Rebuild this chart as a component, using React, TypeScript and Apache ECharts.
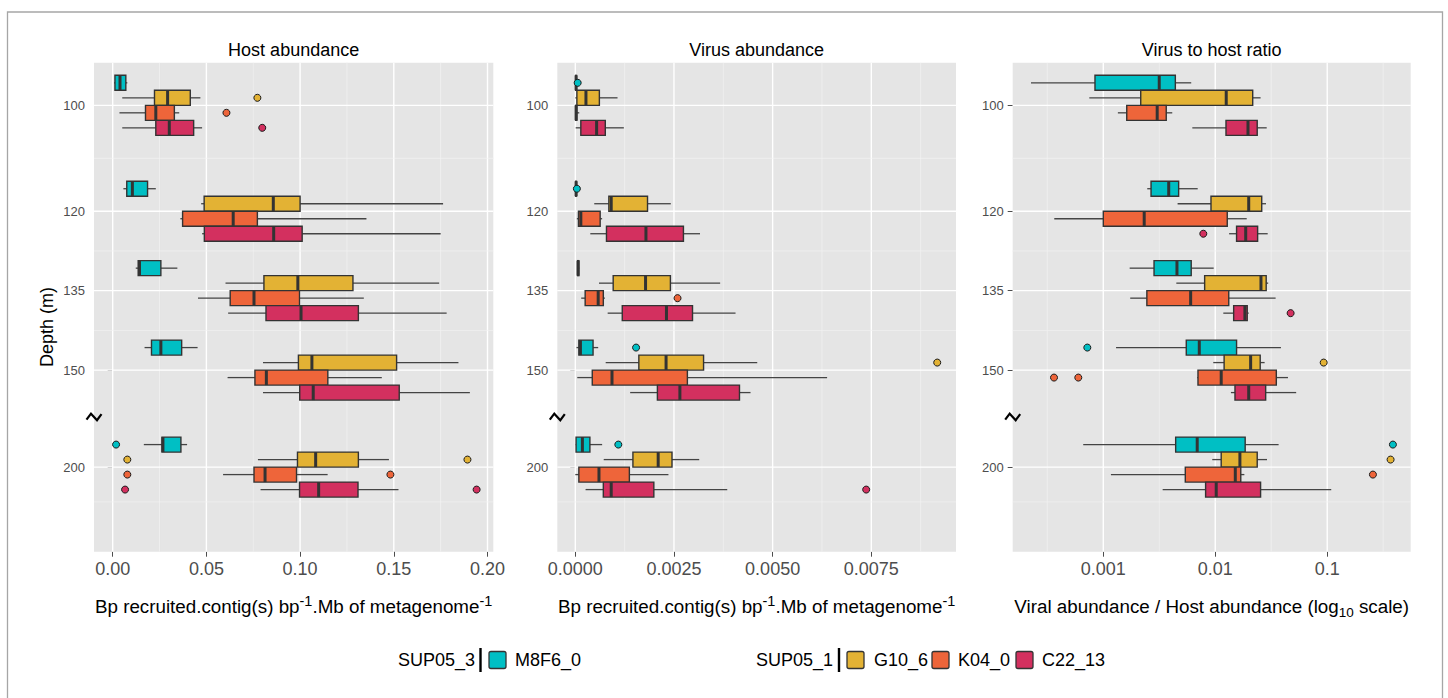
import React, { useEffect, useRef } from 'react';
import * as echarts from 'echarts';

// ---------------- data ----------------
const depths = [100, 120, 135, 150, 200];
const depthTickLabels = ['100', '120', '135', '150', '200'];
const groups = ['M8F6_0', 'G10_6', 'K04_0', 'C22_13'];
const clusters = ['SUP05_3', 'SUP05_1'];

// box stats per depth: [lower whisker, Q1, median, Q3, upper whisker]
const hostM8F6 = [
  [0.0007, 0.0012, 0.0039, 0.007, 0.0078],
  [0.0057, 0.0075, 0.0105, 0.0186, 0.023],
  [0.0123, 0.0136, 0.0143, 0.0257, 0.0345],
  [0.017, 0.0207, 0.0257, 0.0368, 0.0453],
  [0.0166, 0.0263, 0.0268, 0.0364, 0.0397],
];
const hostG10 = [
  [0.0051, 0.0223, 0.0293, 0.0414, 0.0468],
  [0.0472, 0.0488, 0.0857, 0.1, 0.1763],
  [0.0602, 0.0807, 0.0988, 0.1282, 0.1742],
  [0.0802, 0.0991, 0.1063, 0.1515, 0.1845],
  [0.0775, 0.0986, 0.1083, 0.1311, 0.1474],
];
const hostK04 = [
  [0.0036, 0.0175, 0.023, 0.0329, 0.0355],
  [0.0361, 0.0373, 0.0643, 0.0772, 0.1354],
  [0.0455, 0.0627, 0.0754, 0.0997, 0.134],
  [0.0613, 0.0759, 0.082, 0.1148, 0.1436],
  [0.0589, 0.0754, 0.0813, 0.0981, 0.1147],
];
const hostC22 = [
  [0.0051, 0.023, 0.0302, 0.0432, 0.0477],
  [0.0477, 0.0489, 0.0859, 0.1011, 0.175],
  [0.0616, 0.0818, 0.1005, 0.1311, 0.1782],
  [0.0802, 0.0998, 0.107, 0.1529, 0.1906],
  [0.0789, 0.0997, 0.1099, 0.1309, 0.1525],
];
// outliers: [depth, value]
const hostOutM8F6 = [[200, 0.0018]];
const hostOutG10 = [[100, 0.0772], [200, 0.0078], [200, 0.1893]];
const hostOutK04 = [[100, 0.0607], [200, 0.0078], [200, 0.1482]];
const hostOutC22 = [[100, 0.0798], [200, 0.0066], [200, 0.1942]];

const virusM8F6 = [
  [0.0, 0.00001, 0.00002, 0.00003, 0.00004],
  [0.0, 0.00001, 0.00002, 0.00003, 0.00004],
  [0.00005, 0.00006, 0.00007, 0.00009, 0.0001],
  [0.00003, 0.00009, 0.00013, 0.00045, 0.00058],
  [0.00001, 0.00002, 0.00018, 0.00037, 0.00068],
];
const virusG10 = [
  [0.0, 0.00004, 0.00027, 0.00061, 0.00107],
  [0.00048, 0.00085, 0.00091, 0.00183, 0.00242],
  [0.0006, 0.00096, 0.00178, 0.00241, 0.00367],
  [0.00077, 0.00161, 0.0023, 0.00325, 0.00461],
  [0.00072, 0.00146, 0.0021, 0.00245, 0.00314],
];
const virusK04 = [
  [0.0, 0.00001, 0.00002, 0.00004, 0.0001],
  [0.00004, 0.00008, 0.00014, 0.00063, 0.00068],
  [0.00015, 0.00025, 0.00058, 0.00071, 0.00075],
  [0.00005, 0.00043, 0.00093, 0.00284, 0.00638],
  [0.0, 0.00009, 0.0006, 0.00137, 0.00236],
];
const virusC22 = [
  [0.00001, 0.00014, 0.00054, 0.00076, 0.00123],
  [0.00038, 0.00079, 0.00179, 0.00274, 0.00316],
  [0.00082, 0.00119, 0.00231, 0.00297, 0.00406],
  [0.00139, 0.00208, 0.00265, 0.00416, 0.00444],
  [0.00026, 0.00071, 0.00091, 0.00199, 0.00385],
];
const virusOutM8F6 = [[100, 0.00006], [120, 0.00004], [150, 0.00154], [200, 0.00109]];
const virusOutG10 = [[150, 0.00917]];
const virusOutK04 = [[135, 0.00259]];
const virusOutC22 = [[200, 0.00737]];

const ratioM8F6 = [
  [0.000226, 0.000843, 0.00316, 0.0044, 0.0061],
  [0.00247, 0.00267, 0.00384, 0.00471, 0.00697],
  [0.00172, 0.00284, 0.00455, 0.0061, 0.00968],
  [0.0013, 0.00551, 0.0072, 0.0155, 0.0386],
  [0.000662, 0.00443, 0.0069, 0.0185, 0.0368],
];
const ratioG10 = [
  [0.00075, 0.00216, 0.01253, 0.0216, 0.0254],
  [0.00461, 0.00916, 0.0199, 0.026, 0.0284],
  [0.00449, 0.00804, 0.0256, 0.0285, 0.0297],
  [0.0096, 0.012, 0.0207, 0.0252, 0.0276],
  [0.0094, 0.0113, 0.0166, 0.0237, 0.029],
];
const ratioK04 = [
  [0.00135, 0.00162, 0.00303, 0.00365, 0.00413],
  [0.000365, 0.001, 0.00232, 0.0128, 0.0191],
  [0.00174, 0.00245, 0.00603, 0.0132, 0.0346],
  [0.0069, 0.00701, 0.0113, 0.0351, 0.0446],
  [0.00117, 0.0054, 0.0151, 0.0169, 0.0182],
];
const ratioC22 = [
  [0.00624, 0.01247, 0.0196, 0.0237, 0.0288],
  [0.0133, 0.0155, 0.0187, 0.0239, 0.0294],
  [0.0118, 0.0146, 0.0184, 0.0193, 0.0199],
  [0.0138, 0.015, 0.0199, 0.0282, 0.0528],
  [0.00339, 0.0082, 0.0102, 0.0254, 0.1086],
];
const ratioOutM8F6 = [[150, 0.00072], [200, 0.386]];
const ratioOutG10 = [[150, 0.093], [200, 0.368]];
const ratioOutK04 = [[150, 0.000363], [150, 0.000598], [200, 0.256]];
const ratioOutC22 = [[120, 0.00782], [135, 0.0471]];

// axis ticks
const hostTicks = [0, 0.05, 0.1, 0.15, 0.2];
const hostTickLabels = ['0.00', '0.05', '0.10', '0.15', '0.20'];
const hostMinor = [0.025, 0.075, 0.125, 0.175];
const virusTicks = [0, 0.0025, 0.005, 0.0075];
const virusTickLabels = ['0.0000', '0.0025', '0.0050', '0.0075'];
const virusMinor = [0.00125, 0.00375, 0.00625, 0.00875];
const ratioTicks = [0.001, 0.01, 0.1];
const ratioTickLabels = ['0.001', '0.01', '0.1'];
const ratioMinor = [0.000316, 0.00316, 0.0316, 0.316];

// ---------------- layout / style ----------------
const FONT = "'Liberation Sans', Arial, Helvetica, sans-serif";
const COLORS = ['#00BFC4', '#E3B234', '#EE653A', '#D3305F'];
// depth axis with a break between 150 and 200 m
const axisPos = (d: number) => (d <= 150 ? d : 168.32 + (d - 200));
const Y_RANGE = [91.95, 184.3];
const BREAK_POS = 158.8;
const Y_MINOR = [110, 127.5, 142.5, 174.9];
const BOX_STEP = 2.833;
const GRID_TOP = 62.7;
const GRID_H = 489;

const panels = [
  {
    title: 'Host abundance', left: 94, width: 399.3, range: [-0.00998, 0.2031], log: false,
    boxes: [hostM8F6, hostG10, hostK04, hostC22],
    outs: [hostOutM8F6, hostOutG10, hostOutK04, hostOutC22],
    ticks: hostTicks, tickLabels: hostTickLabels, minor: hostMinor,
    name: '{t|Bp recruited.contig(s) bp}{sup|-1}{t|.Mb of metagenome}{sup|-1}',
  },
  {
    title: 'Virus abundance', left: 557.3, width: 398.7, range: [-0.000456, 0.009646], log: false,
    boxes: [virusM8F6, virusG10, virusK04, virusC22],
    outs: [virusOutM8F6, virusOutG10, virusOutK04, virusOutC22],
    ticks: virusTicks, tickLabels: virusTickLabels, minor: virusMinor,
    name: '{t|Bp recruited.contig(s) bp}{sup|-1}{t|.Mb of metagenome}{sup|-1}',
  },
  {
    title: 'Virus to host ratio', left: 1012.7, width: 398, range: [-3.809, -0.2545], log: true,
    boxes: [ratioM8F6, ratioG10, ratioK04, ratioC22],
    outs: [ratioOutM8F6, ratioOutG10, ratioOutK04, ratioOutC22],
    ticks: ratioTicks, tickLabels: ratioTickLabels, minor: ratioMinor,
    name: '{t|Viral abundance / Host abundance (log}{sub|10}{t| scale)}',
  },
];

function buildOption() {
  const grid: any[] = [];
  const xAxis: any[] = [];
  const yAxis: any[] = [];
  const series: any[] = [];
  const graphic: any[] = [];
  const depthPositions = depths.map(axisPos);

  panels.forEach((p, pi) => {
    const tx = (v: number) => (p.log ? Math.log10(v) : v);
    const tickVals = p.ticks.map(tx);
    grid.push({
      left: p.left, top: GRID_TOP, width: p.width, height: GRID_H,
      show: true, backgroundColor: '#E5E5E5', borderWidth: 0,
    });
    xAxis.push({
      gridIndex: pi, type: 'value', min: p.range[0], max: p.range[1],
      axisLine: { show: false },
      splitLine: { show: false },
      axisTick: { show: true, length: 5, lineStyle: { color: '#4D4D4D', width: 1 }, customValues: tickVals },
      axisLabel: {
        show: true, customValues: tickVals, fontSize: 18, color: '#4D4D4D', fontFamily: FONT, margin: 8,
        formatter: (v: number) => {
          const i = tickVals.findIndex((t) => Math.abs(t - v) < 1e-9 + Math.abs(t) * 1e-6);
          return i >= 0 ? p.tickLabels[i] : '';
        },
      },
      name: p.name, nameLocation: 'middle', nameGap: 42,
      nameTextStyle: {
        color: '#000', fontFamily: FONT, fontSize: 18.8,
        rich: {
          t: { fontSize: 18.8, lineHeight: 26, fontFamily: FONT, color: '#000' },
          sup: { fontSize: 14.5, lineHeight: 14, verticalAlign: 'top', fontFamily: FONT, color: '#000' },
          sub: { fontSize: 13.5, lineHeight: 14, verticalAlign: 'bottom', fontFamily: FONT, color: '#000' },
        },
      },
    });
    yAxis.push({
      gridIndex: pi, type: 'value', inverse: true, min: Y_RANGE[0], max: Y_RANGE[1],
      axisLine: { show: false },
      splitLine: { show: false },
      axisTick: { show: true, length: 5, lineStyle: { color: '#4D4D4D', width: 1 }, customValues: depthPositions },
      axisLabel: {
        show: true, customValues: depthPositions, fontSize: 13, color: '#4D4D4D', fontFamily: FONT, margin: 9,
        formatter: (v: number) => {
          const i = depthPositions.findIndex((t) => Math.abs(t - v) < 0.01);
          return i >= 0 ? depthTickLabels[i] : '';
        },
      },
    });

    // grid lines + axis-break mark
    const lineData: number[][] = [];
    tickVals.forEach((v) => lineData.push([0, v]));
    p.minor.map(tx).forEach((v) => lineData.push([1, v]));
    depthPositions.forEach((v) => lineData.push([2, v]));
    Y_MINOR.forEach((v) => lineData.push([3, v]));
    lineData.push([4, BREAK_POS]);
    series.push({
      type: 'custom', coordinateSystem: 'cartesian2d', xAxisIndex: pi, yAxisIndex: pi,
      silent: true, z: 1, data: lineData, encode: { x: 1, y: 1 },
      renderItem: (params: any, api: any) => {
        const kind = api.value(0);
        const v = api.value(1);
        const cs = params.coordSys;
        if (kind === 0 || kind === 1) {
          const x = api.coord([v, Y_RANGE[0]])[0];
          return {
            type: 'line', shape: { x1: x, y1: cs.y, x2: x, y2: cs.y + cs.height },
            style: { stroke: kind === 0 ? '#FFFFFF' : '#F2F2F2', lineWidth: kind === 0 ? 1.4 : 0.7 },
          };
        }
        if (kind === 2 || kind === 3) {
          const y = api.coord([p.range[0], v])[1];
          return {
            type: 'line', shape: { x1: cs.x, y1: y, x2: cs.x + cs.width, y2: y },
            style: { stroke: kind === 2 ? '#FFFFFF' : '#F2F2F2', lineWidth: kind === 2 ? 1.4 : 0.7 },
          };
        }
        const y = api.coord([p.range[0], v])[1];
        const x = cs.x;
        return {
          type: 'polyline',
          shape: { points: [[x - 7.5, y + 3], [x - 3, y - 3], [x + 3, y + 3.5], [x + 7.5, y - 2.5]] },
          style: { stroke: '#000', lineWidth: 2.2, fill: 'none' },
        };
      },
    });

    // boxes
    p.boxes.forEach((stats, gi) => {
      const offset = (gi - 1.5) * BOX_STEP;
      const data = stats.map((s, di) => [axisPos(depths[di]) + offset, ...s.map(tx)]);
      const color = COLORS[gi];
      series.push({
        name: groups[gi], type: 'custom', coordinateSystem: 'cartesian2d', xAxisIndex: pi, yAxisIndex: pi,
        z: 2, data, encode: { x: [1, 2, 3, 4, 5], y: 0 },
        renderItem: (params: any, api: any) => {
          const pos = api.value(0);
          const wl = api.coord([api.value(1), pos]);
          const q1 = api.coord([api.value(2), pos]);
          const med = api.coord([api.value(3), pos]);
          const q3 = api.coord([api.value(4), pos]);
          const wh = api.coord([api.value(5), pos]);
          const top = api.coord([api.value(2), pos - BOX_STEP / 2])[1];
          const bot = api.coord([api.value(2), pos + BOX_STEP / 2])[1];
          const y0 = Math.min(top, bot);
          const h = Math.abs(bot - top);
          const cy = q1[1];
          const ws = { stroke: '#444444', lineWidth: 1.3 };
          return {
            type: 'group',
            children: [
              { type: 'line', shape: { x1: wl[0], y1: cy, x2: q1[0], y2: cy }, style: ws },
              { type: 'line', shape: { x1: q3[0], y1: cy, x2: wh[0], y2: cy }, style: ws },
              {
                type: 'rect', shape: { x: q1[0], y: y0, width: Math.max(q3[0] - q1[0], 0.01), height: h },
                style: { fill: color, stroke: '#333333', lineWidth: 1.4 },
              },
              {
                type: 'line', shape: { x1: med[0], y1: y0, x2: med[0], y2: y0 + h },
                style: { stroke: '#333333', lineWidth: 3 },
              },
            ],
          };
        },
      });
    });

    // outliers
    p.outs.forEach((outs, gi) => {
      const offset = (gi - 1.5) * BOX_STEP;
      series.push({
        name: groups[gi] + ' outliers', type: 'scatter', xAxisIndex: pi, yAxisIndex: pi, z: 3,
        symbol: 'circle', symbolSize: 7,
        itemStyle: { color: COLORS[gi], borderColor: '#1A1A1A', borderWidth: 1, opacity: 1 },
        data: outs.map(([d, v]) => [tx(v), axisPos(d) + offset]),
      });
    });

    // panel title
    graphic.push({
      type: 'text', x: p.left + p.width / 2, y: 50,
      style: { text: p.title, fontSize: 18, fontFamily: FONT, fill: '#000', align: 'center', verticalAlign: 'middle' },
    });
  });

  // y axis title
  graphic.push({
    type: 'text', x: 47, y: 327, rotation: Math.PI / 2,
    style: { text: 'Depth (m)', fontSize: 18, fontFamily: FONT, fill: '#000', align: 'center', verticalAlign: 'middle' },
  });

  // outer frame
  graphic.push({
    type: 'rect', silent: true,
    shape: { x: 7.5, y: 12, width: 1435, height: 720 },
    style: { fill: 'none', stroke: '#A6A6A6', lineWidth: 1.3 },
  });

  // legend
  const LEG_Y = 660;
  const legendGroups = [
    { label: clusters[0], labelRight: 475, bar: 480.5, items: [{ gi: 0, sw: 489, tx: 515 }] },
    {
      label: clusters[1], labelRight: 833, bar: 839, items: [
        { gi: 1, sw: 847, tx: 874 },
        { gi: 2, sw: 932, tx: 958 },
        { gi: 3, sw: 1016, tx: 1042 },
      ],
    },
  ];
  legendGroups.forEach((lg) => {
    graphic.push({
      type: 'text', x: lg.labelRight, y: LEG_Y,
      style: { text: lg.label, fontSize: 18, fontFamily: FONT, fill: '#000', align: 'right', verticalAlign: 'middle' },
    });
    graphic.push({ type: 'rect', shape: { x: lg.bar - 1.2, y: LEG_Y - 12, width: 2.4, height: 24 }, style: { fill: '#000' } });
    lg.items.forEach((it) => {
      graphic.push({
        type: 'rect', shape: { x: it.sw, y: LEG_Y - 8.5, width: 17, height: 17, r: 2 },
        style: { fill: COLORS[it.gi], stroke: '#333333', lineWidth: 1.3 },
      });
      graphic.push({
        type: 'text', x: it.tx, y: LEG_Y,
        style: { text: groups[it.gi], fontSize: 18, fontFamily: FONT, fill: '#000', align: 'left', verticalAlign: 'middle' },
      });
    });
  });

  return {
    animation: false,
    backgroundColor: '#FFFFFF',
    textStyle: { fontFamily: FONT },
    grid, xAxis, yAxis, series, graphic,
  };
}

export default function App() {
  const ref = useRef<HTMLDivElement>(null);
  useEffect(() => {
    if (!ref.current) return;
    const chart = echarts.init(ref.current, undefined, { renderer: 'svg' });
    chart.setOption(buildOption() as any);
    return () => chart.dispose();
  }, []);
  return (
    <div
      ref={ref}
      style={{ position: 'fixed', left: 0, top: 0, width: 1448, height: 698, background: '#fff' }}
    />
  );
}
